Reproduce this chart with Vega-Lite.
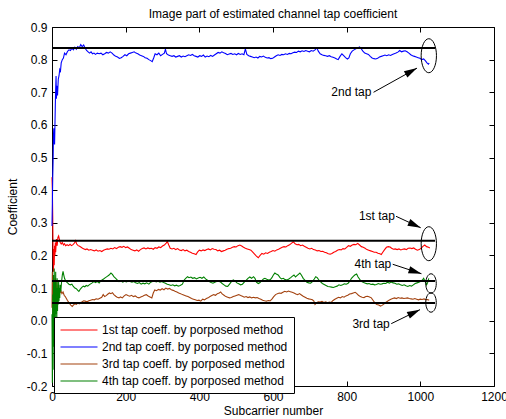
{
  "$schema": "https://vega.github.io/schema/vega-lite/v6.json",
  "width": 442,
  "height": 359,
  "autosize": {"type": "none"},
  "padding": {"left": 52, "top": 27, "right": 12, "bottom": 33},
  "background": "white",
  "title": {"text": "Image part of estimated channel tap coefficient", "fontSize": 12, "fontWeight": "normal", "offset": 0, "anchor": "middle", "color": "black"},
  "config": {
    "font": "Liberation Sans",
    "view": {"stroke": "black", "strokeWidth": 1},
    "axis": {"grid": false, "domain": false, "labelFontSize": 12, "titleFontSize": 12, "titleFontWeight": "normal", "labelColor": "black", "titleColor": "black", "tickColor": "black", "labelFlush": false, "labelOverlap": false}
  },
  "datasets": {
    "series": [
      {"s":"1st","x":0,"y":0.44},{"s":"1st","x":1,"y":0.40},{"s":"1st","x":2,"y":0.32},{"s":"1st","x":3,"y":0.20},{"s":"1st","x":4,"y":0.15},{"s":"1st","x":5,"y":0.22},{"s":"1st","x":6,"y":0.17},{"s":"1st","x":7,"y":0.23},{"s":"1st","x":8,"y":0.20},{"s":"1st","x":9,"y":0.24},{"s":"1st","x":10,"y":0.21},{"s":"1st","x":12,"y":0.25},{"s":"1st","x":14,"y":0.23},{"s":"1st","x":16,"y":0.255},{"s":"1st","x":18,"y":0.26},{"s":"1st","x":20,"y":0.25},{"s":"1st","x":22,"y":0.24},{"s":"1st","x":25,"y":0.235},{"s":"1st","x":28,"y":0.24},{"s":"1st","x":31,"y":0.232},{"s":"1st","x":34,"y":0.236},{"s":"1st","x":37,"y":0.23},{"s":"1st","x":41,"y":0.233},{"s":"1st","x":45,"y":0.23},{"s":"1st","x":49,"y":0.234},{"s":"1st","x":53,"y":0.23},{"s":"1st","x":57,"y":0.233},{"s":"1st","x":61,"y":0.238},{"s":"1st","x":64,"y":0.245},{"s":"1st","x":67,"y":0.235},{"s":"1st","x":71,"y":0.23},{"s":"1st","x":75,"y":0.228},{"s":"1st","x":79,"y":0.225},{"s":"1st","x":83,"y":0.222},{"s":"1st","x":87,"y":0.22},{"s":"1st","x":91,"y":0.218},{"s":"1st","x":95,"y":0.22},{"s":"1st","x":100,"y":0.216},{"s":"1st","x":105,"y":0.218},{"s":"1st","x":110,"y":0.216},{"s":"1st","x":115,"y":0.214},{"s":"1st","x":120,"y":0.217},{"s":"1st","x":125,"y":0.213},{"s":"1st","x":130,"y":0.215},{"s":"1st","x":135,"y":0.212},{"s":"1st","x":140,"y":0.216},{"s":"1st","x":145,"y":0.218},{"s":"1st","x":150,"y":0.22},{"s":"1st","x":155,"y":0.219},{"s":"1st","x":160,"y":0.222},{"s":"1st","x":165,"y":0.22},{"s":"1st","x":170,"y":0.224},{"s":"1st","x":175,"y":0.221},{"s":"1st","x":180,"y":0.225},{"s":"1st","x":185,"y":0.227},{"s":"1st","x":190,"y":0.225},{"s":"1st","x":195,"y":0.228},{"s":"1st","x":200,"y":0.224},{"s":"1st","x":205,"y":0.226},{"s":"1st","x":210,"y":0.222},{"s":"1st","x":215,"y":0.218},{"s":"1st","x":220,"y":0.216},{"s":"1st","x":225,"y":0.214},{"s":"1st","x":230,"y":0.217},{"s":"1st","x":235,"y":0.213},{"s":"1st","x":240,"y":0.218},{"s":"1st","x":245,"y":0.221},{"s":"1st","x":250,"y":0.223},{"s":"1st","x":255,"y":0.22},{"s":"1st","x":260,"y":0.223},{"s":"1st","x":265,"y":0.221},{"s":"1st","x":270,"y":0.222},{"s":"1st","x":275,"y":0.219},{"s":"1st","x":280,"y":0.224},{"s":"1st","x":285,"y":0.222},{"s":"1st","x":290,"y":0.226},{"s":"1st","x":295,"y":0.224},{"s":"1st","x":300,"y":0.229},{"s":"1st","x":305,"y":0.232},{"s":"1st","x":310,"y":0.238},{"s":"1st","x":313,"y":0.243},{"s":"1st","x":317,"y":0.232},{"s":"1st","x":321,"y":0.222},{"s":"1st","x":326,"y":0.22},{"s":"1st","x":331,"y":0.222},{"s":"1st","x":336,"y":0.218},{"s":"1st","x":341,"y":0.221},{"s":"1st","x":346,"y":0.217},{"s":"1st","x":351,"y":0.215},{"s":"1st","x":356,"y":0.218},{"s":"1st","x":361,"y":0.214},{"s":"1st","x":366,"y":0.216},{"s":"1st","x":371,"y":0.212},{"s":"1st","x":376,"y":0.21},{"s":"1st","x":381,"y":0.207},{"s":"1st","x":386,"y":0.205},{"s":"1st","x":391,"y":0.203},{"s":"1st","x":395,"y":0.21},{"s":"1st","x":400,"y":0.216},{"s":"1st","x":405,"y":0.214},{"s":"1st","x":410,"y":0.217},{"s":"1st","x":415,"y":0.215},{"s":"1st","x":420,"y":0.218},{"s":"1st","x":425,"y":0.22},{"s":"1st","x":430,"y":0.217},{"s":"1st","x":435,"y":0.221},{"s":"1st","x":440,"y":0.219},{"s":"1st","x":445,"y":0.218},{"s":"1st","x":450,"y":0.214},{"s":"1st","x":455,"y":0.216},{"s":"1st","x":460,"y":0.212},{"s":"1st","x":465,"y":0.214},{"s":"1st","x":470,"y":0.216},{"s":"1st","x":475,"y":0.219},{"s":"1st","x":480,"y":0.221},{"s":"1st","x":485,"y":0.222},{"s":"1st","x":490,"y":0.225},{"s":"1st","x":495,"y":0.227},{"s":"1st","x":500,"y":0.226},{"s":"1st","x":505,"y":0.23},{"s":"1st","x":510,"y":0.232},{"s":"1st","x":515,"y":0.229},{"s":"1st","x":520,"y":0.225},{"s":"1st","x":525,"y":0.222},{"s":"1st","x":530,"y":0.22},{"s":"1st","x":535,"y":0.218},{"s":"1st","x":540,"y":0.216},{"s":"1st","x":545,"y":0.21},{"s":"1st","x":550,"y":0.204},{"s":"1st","x":555,"y":0.198},{"s":"1st","x":560,"y":0.193},{"s":"1st","x":565,"y":0.2},{"s":"1st","x":570,"y":0.206},{"s":"1st","x":575,"y":0.204},{"s":"1st","x":580,"y":0.208},{"s":"1st","x":585,"y":0.206},{"s":"1st","x":590,"y":0.21},{"s":"1st","x":595,"y":0.212},{"s":"1st","x":600,"y":0.215},{"s":"1st","x":605,"y":0.213},{"s":"1st","x":610,"y":0.217},{"s":"1st","x":615,"y":0.219},{"s":"1st","x":620,"y":0.222},{"s":"1st","x":625,"y":0.225},{"s":"1st","x":630,"y":0.227},{"s":"1st","x":635,"y":0.226},{"s":"1st","x":640,"y":0.23},{"s":"1st","x":645,"y":0.233},{"s":"1st","x":650,"y":0.237},{"s":"1st","x":655,"y":0.242},{"s":"1st","x":660,"y":0.236},{"s":"1st","x":665,"y":0.233},{"s":"1st","x":670,"y":0.234},{"s":"1st","x":675,"y":0.23},{"s":"1st","x":680,"y":0.232},{"s":"1st","x":685,"y":0.228},{"s":"1st","x":690,"y":0.225},{"s":"1st","x":695,"y":0.222},{"s":"1st","x":700,"y":0.22},{"s":"1st","x":705,"y":0.222},{"s":"1st","x":710,"y":0.218},{"s":"1st","x":715,"y":0.217},{"s":"1st","x":720,"y":0.214},{"s":"1st","x":725,"y":0.215},{"s":"1st","x":730,"y":0.212},{"s":"1st","x":735,"y":0.213},{"s":"1st","x":740,"y":0.21},{"s":"1st","x":745,"y":0.208},{"s":"1st","x":750,"y":0.205},{"s":"1st","x":755,"y":0.204},{"s":"1st","x":760,"y":0.206},{"s":"1st","x":765,"y":0.21},{"s":"1st","x":770,"y":0.212},{"s":"1st","x":775,"y":0.216},{"s":"1st","x":780,"y":0.218},{"s":"1st","x":785,"y":0.217},{"s":"1st","x":790,"y":0.221},{"s":"1st","x":795,"y":0.22},{"s":"1st","x":800,"y":0.225},{"s":"1st","x":805,"y":0.23},{"s":"1st","x":810,"y":0.228},{"s":"1st","x":815,"y":0.232},{"s":"1st","x":820,"y":0.234},{"s":"1st","x":825,"y":0.233},{"s":"1st","x":830,"y":0.237},{"s":"1st","x":835,"y":0.232},{"s":"1st","x":840,"y":0.227},{"s":"1st","x":845,"y":0.225},{"s":"1st","x":850,"y":0.222},{"s":"1st","x":855,"y":0.218},{"s":"1st","x":860,"y":0.216},{"s":"1st","x":865,"y":0.214},{"s":"1st","x":870,"y":0.212},{"s":"1st","x":875,"y":0.21},{"s":"1st","x":880,"y":0.21},{"s":"1st","x":885,"y":0.207},{"s":"1st","x":890,"y":0.205},{"s":"1st","x":894,"y":0.203},{"s":"1st","x":898,"y":0.21},{"s":"1st","x":903,"y":0.218},{"s":"1st","x":908,"y":0.225},{"s":"1st","x":913,"y":0.227},{"s":"1st","x":918,"y":0.226},{"s":"1st","x":922,"y":0.222},{"s":"1st","x":927,"y":0.219},{"s":"1st","x":932,"y":0.22},{"s":"1st","x":937,"y":0.218},{"s":"1st","x":942,"y":0.22},{"s":"1st","x":947,"y":0.217},{"s":"1st","x":952,"y":0.219},{"s":"1st","x":957,"y":0.22},{"s":"1st","x":962,"y":0.218},{"s":"1st","x":967,"y":0.222},{"s":"1st","x":972,"y":0.223},{"s":"1st","x":977,"y":0.221},{"s":"1st","x":982,"y":0.223},{"s":"1st","x":987,"y":0.219},{"s":"1st","x":992,"y":0.216},{"s":"1st","x":997,"y":0.218},{"s":"1st","x":1002,"y":0.222},{"s":"1st","x":1007,"y":0.228},{"s":"1st","x":1012,"y":0.232},{"s":"1st","x":1017,"y":0.227},{"s":"1st","x":1022,"y":0.225},{"s":"1st","x":1026,"y":0.223},
      {"s":"2nd","x":0,"y":0.29},{"s":"2nd","x":1,"y":0.36},{"s":"2nd","x":2,"y":0.44},{"s":"2nd","x":3,"y":0.49},{"s":"2nd","x":4,"y":0.57},{"s":"2nd","x":5,"y":0.59},{"s":"2nd","x":6,"y":0.55},{"s":"2nd","x":7,"y":0.54},{"s":"2nd","x":8,"y":0.60},{"s":"2nd","x":9,"y":0.66},{"s":"2nd","x":10,"y":0.71},{"s":"2nd","x":11,"y":0.75},{"s":"2nd","x":12,"y":0.68},{"s":"2nd","x":13,"y":0.72},{"s":"2nd","x":14,"y":0.70},{"s":"2nd","x":15,"y":0.69},{"s":"2nd","x":17,"y":0.74},{"s":"2nd","x":19,"y":0.75},{"s":"2nd","x":21,"y":0.77},{"s":"2nd","x":23,"y":0.765},{"s":"2nd","x":25,"y":0.79},{"s":"2nd","x":28,"y":0.80},{"s":"2nd","x":31,"y":0.805},{"s":"2nd","x":34,"y":0.82},{"s":"2nd","x":38,"y":0.815},{"s":"2nd","x":42,"y":0.825},{"s":"2nd","x":46,"y":0.83},{"s":"2nd","x":50,"y":0.828},{"s":"2nd","x":54,"y":0.835},{"s":"2nd","x":58,"y":0.83},{"s":"2nd","x":62,"y":0.838},{"s":"2nd","x":66,"y":0.832},{"s":"2nd","x":70,"y":0.84},{"s":"2nd","x":74,"y":0.836},{"s":"2nd","x":78,"y":0.846},{"s":"2nd","x":82,"y":0.84},{"s":"2nd","x":86,"y":0.845},{"s":"2nd","x":90,"y":0.835},{"s":"2nd","x":94,"y":0.828},{"s":"2nd","x":98,"y":0.824},{"s":"2nd","x":102,"y":0.82},{"s":"2nd","x":106,"y":0.824},{"s":"2nd","x":110,"y":0.818},{"s":"2nd","x":114,"y":0.82},{"s":"2nd","x":118,"y":0.816},{"s":"2nd","x":123,"y":0.82},{"s":"2nd","x":128,"y":0.818},{"s":"2nd","x":133,"y":0.82},{"s":"2nd","x":138,"y":0.815},{"s":"2nd","x":143,"y":0.818},{"s":"2nd","x":148,"y":0.822},{"s":"2nd","x":153,"y":0.82},{"s":"2nd","x":158,"y":0.824},{"s":"2nd","x":163,"y":0.82},{"s":"2nd","x":168,"y":0.814},{"s":"2nd","x":173,"y":0.81},{"s":"2nd","x":178,"y":0.808},{"s":"2nd","x":183,"y":0.804},{"s":"2nd","x":188,"y":0.806},{"s":"2nd","x":193,"y":0.81},{"s":"2nd","x":198,"y":0.815},{"s":"2nd","x":203,"y":0.812},{"s":"2nd","x":208,"y":0.818},{"s":"2nd","x":213,"y":0.82},{"s":"2nd","x":218,"y":0.822},{"s":"2nd","x":223,"y":0.824},{"s":"2nd","x":228,"y":0.82},{"s":"2nd","x":233,"y":0.818},{"s":"2nd","x":238,"y":0.814},{"s":"2nd","x":243,"y":0.812},{"s":"2nd","x":248,"y":0.81},{"s":"2nd","x":253,"y":0.806},{"s":"2nd","x":258,"y":0.804},{"s":"2nd","x":263,"y":0.80},{"s":"2nd","x":268,"y":0.797},{"s":"2nd","x":272,"y":0.794},{"s":"2nd","x":276,"y":0.805},{"s":"2nd","x":280,"y":0.818},{"s":"2nd","x":285,"y":0.815},{"s":"2nd","x":290,"y":0.82},{"s":"2nd","x":295,"y":0.812},{"s":"2nd","x":300,"y":0.816},{"s":"2nd","x":305,"y":0.82},{"s":"2nd","x":308,"y":0.832},{"s":"2nd","x":311,"y":0.818},{"s":"2nd","x":316,"y":0.814},{"s":"2nd","x":321,"y":0.812},{"s":"2nd","x":326,"y":0.81},{"s":"2nd","x":331,"y":0.812},{"s":"2nd","x":336,"y":0.808},{"s":"2nd","x":341,"y":0.81},{"s":"2nd","x":346,"y":0.812},{"s":"2nd","x":351,"y":0.808},{"s":"2nd","x":356,"y":0.811},{"s":"2nd","x":361,"y":0.809},{"s":"2nd","x":366,"y":0.812},{"s":"2nd","x":371,"y":0.815},{"s":"2nd","x":376,"y":0.813},{"s":"2nd","x":381,"y":0.816},{"s":"2nd","x":386,"y":0.812},{"s":"2nd","x":391,"y":0.81},{"s":"2nd","x":396,"y":0.808},{"s":"2nd","x":401,"y":0.812},{"s":"2nd","x":406,"y":0.81},{"s":"2nd","x":411,"y":0.814},{"s":"2nd","x":416,"y":0.808},{"s":"2nd","x":421,"y":0.811},{"s":"2nd","x":426,"y":0.809},{"s":"2nd","x":431,"y":0.813},{"s":"2nd","x":436,"y":0.81},{"s":"2nd","x":441,"y":0.814},{"s":"2nd","x":446,"y":0.818},{"s":"2nd","x":451,"y":0.822},{"s":"2nd","x":456,"y":0.82},{"s":"2nd","x":461,"y":0.824},{"s":"2nd","x":466,"y":0.821},{"s":"2nd","x":471,"y":0.819},{"s":"2nd","x":476,"y":0.815},{"s":"2nd","x":481,"y":0.817},{"s":"2nd","x":486,"y":0.819},{"s":"2nd","x":491,"y":0.816},{"s":"2nd","x":496,"y":0.818},{"s":"2nd","x":501,"y":0.815},{"s":"2nd","x":506,"y":0.819},{"s":"2nd","x":511,"y":0.816},{"s":"2nd","x":516,"y":0.818},{"s":"2nd","x":521,"y":0.815},{"s":"2nd","x":525,"y":0.833},{"s":"2nd","x":529,"y":0.816},{"s":"2nd","x":534,"y":0.812},{"s":"2nd","x":539,"y":0.81},{"s":"2nd","x":544,"y":0.808},{"s":"2nd","x":549,"y":0.806},{"s":"2nd","x":554,"y":0.808},{"s":"2nd","x":559,"y":0.805},{"s":"2nd","x":564,"y":0.81},{"s":"2nd","x":569,"y":0.808},{"s":"2nd","x":574,"y":0.811},{"s":"2nd","x":579,"y":0.807},{"s":"2nd","x":584,"y":0.805},{"s":"2nd","x":589,"y":0.806},{"s":"2nd","x":594,"y":0.803},{"s":"2nd","x":599,"y":0.804},{"s":"2nd","x":604,"y":0.808},{"s":"2nd","x":609,"y":0.812},{"s":"2nd","x":614,"y":0.815},{"s":"2nd","x":619,"y":0.813},{"s":"2nd","x":624,"y":0.816},{"s":"2nd","x":629,"y":0.815},{"s":"2nd","x":634,"y":0.818},{"s":"2nd","x":639,"y":0.816},{"s":"2nd","x":644,"y":0.819},{"s":"2nd","x":649,"y":0.818},{"s":"2nd","x":654,"y":0.821},{"s":"2nd","x":659,"y":0.823},{"s":"2nd","x":664,"y":0.822},{"s":"2nd","x":669,"y":0.826},{"s":"2nd","x":674,"y":0.824},{"s":"2nd","x":679,"y":0.827},{"s":"2nd","x":684,"y":0.825},{"s":"2nd","x":689,"y":0.828},{"s":"2nd","x":694,"y":0.826},{"s":"2nd","x":699,"y":0.824},{"s":"2nd","x":704,"y":0.828},{"s":"2nd","x":709,"y":0.826},{"s":"2nd","x":714,"y":0.83},{"s":"2nd","x":719,"y":0.836},{"s":"2nd","x":723,"y":0.826},{"s":"2nd","x":728,"y":0.818},{"s":"2nd","x":733,"y":0.815},{"s":"2nd","x":738,"y":0.813},{"s":"2nd","x":743,"y":0.812},{"s":"2nd","x":748,"y":0.81},{"s":"2nd","x":753,"y":0.812},{"s":"2nd","x":758,"y":0.809},{"s":"2nd","x":763,"y":0.807},{"s":"2nd","x":768,"y":0.805},{"s":"2nd","x":773,"y":0.802},{"s":"2nd","x":777,"y":0.80},{"s":"2nd","x":782,"y":0.81},{"s":"2nd","x":787,"y":0.818},{"s":"2nd","x":792,"y":0.812},{"s":"2nd","x":797,"y":0.806},{"s":"2nd","x":802,"y":0.802},{"s":"2nd","x":806,"y":0.805},{"s":"2nd","x":810,"y":0.818},{"s":"2nd","x":815,"y":0.826},{"s":"2nd","x":820,"y":0.83},{"s":"2nd","x":825,"y":0.833},{"s":"2nd","x":830,"y":0.836},{"s":"2nd","x":835,"y":0.839},{"s":"2nd","x":839,"y":0.834},{"s":"2nd","x":844,"y":0.826},{"s":"2nd","x":849,"y":0.82},{"s":"2nd","x":854,"y":0.818},{"s":"2nd","x":859,"y":0.816},{"s":"2nd","x":864,"y":0.81},{"s":"2nd","x":869,"y":0.805},{"s":"2nd","x":874,"y":0.803},{"s":"2nd","x":879,"y":0.802},{"s":"2nd","x":884,"y":0.804},{"s":"2nd","x":889,"y":0.808},{"s":"2nd","x":894,"y":0.81},{"s":"2nd","x":899,"y":0.812},{"s":"2nd","x":904,"y":0.814},{"s":"2nd","x":909,"y":0.812},{"s":"2nd","x":914,"y":0.815},{"s":"2nd","x":919,"y":0.813},{"s":"2nd","x":924,"y":0.816},{"s":"2nd","x":929,"y":0.818},{"s":"2nd","x":934,"y":0.82},{"s":"2nd","x":939,"y":0.823},{"s":"2nd","x":944,"y":0.828},{"s":"2nd","x":949,"y":0.824},{"s":"2nd","x":954,"y":0.826},{"s":"2nd","x":959,"y":0.827},{"s":"2nd","x":964,"y":0.824},{"s":"2nd","x":969,"y":0.82},{"s":"2nd","x":974,"y":0.815},{"s":"2nd","x":979,"y":0.812},{"s":"2nd","x":984,"y":0.81},{"s":"2nd","x":989,"y":0.808},{"s":"2nd","x":994,"y":0.806},{"s":"2nd","x":999,"y":0.804},{"s":"2nd","x":1004,"y":0.80},{"s":"2nd","x":1009,"y":0.802},{"s":"2nd","x":1014,"y":0.796},{"s":"2nd","x":1018,"y":0.79},{"s":"2nd","x":1022,"y":0.786},{"s":"2nd","x":1024,"y":0.79},
      {"s":"3rd","x":0,"y":0.04},{"s":"3rd","x":1,"y":0.15},{"s":"3rd","x":2,"y":-0.05},{"s":"3rd","x":3,"y":0.12},{"s":"3rd","x":4,"y":0.0},{"s":"3rd","x":5,"y":0.14},{"s":"3rd","x":6,"y":0.03},{"s":"3rd","x":7,"y":0.11},{"s":"3rd","x":8,"y":0.02},{"s":"3rd","x":9,"y":0.13},{"s":"3rd","x":10,"y":0.04},{"s":"3rd","x":11,"y":0.10},{"s":"3rd","x":12,"y":0.05},{"s":"3rd","x":13,"y":0.12},{"s":"3rd","x":14,"y":0.06},{"s":"3rd","x":15,"y":0.10},{"s":"3rd","x":16,"y":0.07},{"s":"3rd","x":17,"y":0.11},{"s":"3rd","x":18,"y":0.08},{"s":"3rd","x":20,"y":0.10},{"s":"3rd","x":22,"y":0.085},{"s":"3rd","x":24,"y":0.092},{"s":"3rd","x":27,"y":0.083},{"s":"3rd","x":30,"y":0.088},{"s":"3rd","x":33,"y":0.078},{"s":"3rd","x":36,"y":0.074},{"s":"3rd","x":39,"y":0.068},{"s":"3rd","x":42,"y":0.062},{"s":"3rd","x":45,"y":0.057},{"s":"3rd","x":48,"y":0.052},{"s":"3rd","x":51,"y":0.048},{"s":"3rd","x":55,"y":0.044},{"s":"3rd","x":58,"y":0.048},{"s":"3rd","x":62,"y":0.052},{"s":"3rd","x":66,"y":0.05},{"s":"3rd","x":70,"y":0.054},{"s":"3rd","x":74,"y":0.052},{"s":"3rd","x":78,"y":0.056},{"s":"3rd","x":82,"y":0.058},{"s":"3rd","x":86,"y":0.061},{"s":"3rd","x":90,"y":0.06},{"s":"3rd","x":95,"y":0.058},{"s":"3rd","x":100,"y":0.061},{"s":"3rd","x":105,"y":0.063},{"s":"3rd","x":110,"y":0.065},{"s":"3rd","x":115,"y":0.064},{"s":"3rd","x":120,"y":0.067},{"s":"3rd","x":125,"y":0.066},{"s":"3rd","x":130,"y":0.069},{"s":"3rd","x":135,"y":0.072},{"s":"3rd","x":139,"y":0.08},{"s":"3rd","x":143,"y":0.074},{"s":"3rd","x":147,"y":0.077},{"s":"3rd","x":152,"y":0.082},{"s":"3rd","x":156,"y":0.085},{"s":"3rd","x":160,"y":0.083},{"s":"3rd","x":164,"y":0.086},{"s":"3rd","x":168,"y":0.08},{"s":"3rd","x":173,"y":0.075},{"s":"3rd","x":177,"y":0.072},{"s":"3rd","x":182,"y":0.07},{"s":"3rd","x":186,"y":0.073},{"s":"3rd","x":191,"y":0.07},{"s":"3rd","x":196,"y":0.076},{"s":"3rd","x":201,"y":0.08},{"s":"3rd","x":206,"y":0.077},{"s":"3rd","x":211,"y":0.075},{"s":"3rd","x":216,"y":0.078},{"s":"3rd","x":221,"y":0.074},{"s":"3rd","x":226,"y":0.076},{"s":"3rd","x":231,"y":0.072},{"s":"3rd","x":236,"y":0.07},{"s":"3rd","x":241,"y":0.073},{"s":"3rd","x":246,"y":0.075},{"s":"3rd","x":251,"y":0.078},{"s":"3rd","x":256,"y":0.08},{"s":"3rd","x":261,"y":0.076},{"s":"3rd","x":266,"y":0.073},{"s":"3rd","x":271,"y":0.07},{"s":"3rd","x":275,"y":0.085},{"s":"3rd","x":279,"y":0.094},{"s":"3rd","x":284,"y":0.092},{"s":"3rd","x":289,"y":0.096},{"s":"3rd","x":294,"y":0.094},{"s":"3rd","x":299,"y":0.098},{"s":"3rd","x":304,"y":0.095},{"s":"3rd","x":309,"y":0.10},{"s":"3rd","x":314,"y":0.097},{"s":"3rd","x":319,"y":0.099},{"s":"3rd","x":324,"y":0.095},{"s":"3rd","x":329,"y":0.093},{"s":"3rd","x":334,"y":0.09},{"s":"3rd","x":339,"y":0.088},{"s":"3rd","x":344,"y":0.085},{"s":"3rd","x":349,"y":0.083},{"s":"3rd","x":354,"y":0.08},{"s":"3rd","x":359,"y":0.078},{"s":"3rd","x":364,"y":0.076},{"s":"3rd","x":369,"y":0.074},{"s":"3rd","x":374,"y":0.071},{"s":"3rd","x":379,"y":0.068},{"s":"3rd","x":384,"y":0.066},{"s":"3rd","x":389,"y":0.064},{"s":"3rd","x":394,"y":0.062},{"s":"3rd","x":399,"y":0.063},{"s":"3rd","x":404,"y":0.06},{"s":"3rd","x":409,"y":0.066},{"s":"3rd","x":414,"y":0.064},{"s":"3rd","x":419,"y":0.068},{"s":"3rd","x":424,"y":0.07},{"s":"3rd","x":429,"y":0.074},{"s":"3rd","x":434,"y":0.077},{"s":"3rd","x":439,"y":0.08},{"s":"3rd","x":444,"y":0.078},{"s":"3rd","x":449,"y":0.083},{"s":"3rd","x":454,"y":0.085},{"s":"3rd","x":458,"y":0.088},{"s":"3rd","x":462,"y":0.082},{"s":"3rd","x":467,"y":0.078},{"s":"3rd","x":472,"y":0.074},{"s":"3rd","x":477,"y":0.072},{"s":"3rd","x":482,"y":0.07},{"s":"3rd","x":487,"y":0.071},{"s":"3rd","x":492,"y":0.074},{"s":"3rd","x":497,"y":0.076},{"s":"3rd","x":502,"y":0.078},{"s":"3rd","x":507,"y":0.08},{"s":"3rd","x":512,"y":0.077},{"s":"3rd","x":517,"y":0.075},{"s":"3rd","x":522,"y":0.072},{"s":"3rd","x":527,"y":0.074},{"s":"3rd","x":532,"y":0.071},{"s":"3rd","x":537,"y":0.073},{"s":"3rd","x":542,"y":0.07},{"s":"3rd","x":547,"y":0.072},{"s":"3rd","x":552,"y":0.07},{"s":"3rd","x":557,"y":0.071},{"s":"3rd","x":562,"y":0.068},{"s":"3rd","x":567,"y":0.066},{"s":"3rd","x":572,"y":0.063},{"s":"3rd","x":577,"y":0.061},{"s":"3rd","x":582,"y":0.06},{"s":"3rd","x":587,"y":0.062},{"s":"3rd","x":592,"y":0.061},{"s":"3rd","x":597,"y":0.066},{"s":"3rd","x":602,"y":0.074},{"s":"3rd","x":607,"y":0.08},{"s":"3rd","x":612,"y":0.083},{"s":"3rd","x":617,"y":0.085},{"s":"3rd","x":622,"y":0.084},{"s":"3rd","x":627,"y":0.087},{"s":"3rd","x":632,"y":0.09},{"s":"3rd","x":637,"y":0.088},{"s":"3rd","x":642,"y":0.091},{"s":"3rd","x":647,"y":0.089},{"s":"3rd","x":652,"y":0.087},{"s":"3rd","x":657,"y":0.085},{"s":"3rd","x":662,"y":0.082},{"s":"3rd","x":667,"y":0.08},{"s":"3rd","x":672,"y":0.083},{"s":"3rd","x":677,"y":0.079},{"s":"3rd","x":682,"y":0.075},{"s":"3rd","x":687,"y":0.072},{"s":"3rd","x":692,"y":0.069},{"s":"3rd","x":697,"y":0.067},{"s":"3rd","x":702,"y":0.066},{"s":"3rd","x":707,"y":0.064},{"s":"3rd","x":711,"y":0.06},{"s":"3rd","x":714,"y":0.05},{"s":"3rd","x":718,"y":0.055},{"s":"3rd","x":723,"y":0.058},{"s":"3rd","x":728,"y":0.057},{"s":"3rd","x":733,"y":0.059},{"s":"3rd","x":738,"y":0.056},{"s":"3rd","x":743,"y":0.058},{"s":"3rd","x":748,"y":0.055},{"s":"3rd","x":753,"y":0.057},{"s":"3rd","x":758,"y":0.056},{"s":"3rd","x":763,"y":0.062},{"s":"3rd","x":768,"y":0.066},{"s":"3rd","x":773,"y":0.069},{"s":"3rd","x":778,"y":0.072},{"s":"3rd","x":783,"y":0.07},{"s":"3rd","x":788,"y":0.074},{"s":"3rd","x":793,"y":0.072},{"s":"3rd","x":798,"y":0.076},{"s":"3rd","x":803,"y":0.078},{"s":"3rd","x":808,"y":0.082},{"s":"3rd","x":813,"y":0.083},{"s":"3rd","x":818,"y":0.085},{"s":"3rd","x":823,"y":0.087},{"s":"3rd","x":827,"y":0.084},{"s":"3rd","x":832,"y":0.078},{"s":"3rd","x":837,"y":0.074},{"s":"3rd","x":842,"y":0.072},{"s":"3rd","x":847,"y":0.071},{"s":"3rd","x":852,"y":0.074},{"s":"3rd","x":857,"y":0.075},{"s":"3rd","x":862,"y":0.073},{"s":"3rd","x":867,"y":0.07},{"s":"3rd","x":872,"y":0.062},{"s":"3rd","x":877,"y":0.054},{"s":"3rd","x":882,"y":0.05},{"s":"3rd","x":887,"y":0.048},{"s":"3rd","x":892,"y":0.045},{"s":"3rd","x":896,"y":0.047},{"s":"3rd","x":900,"y":0.05},{"s":"3rd","x":905,"y":0.055},{"s":"3rd","x":910,"y":0.059},{"s":"3rd","x":915,"y":0.063},{"s":"3rd","x":920,"y":0.066},{"s":"3rd","x":925,"y":0.068},{"s":"3rd","x":930,"y":0.07},{"s":"3rd","x":935,"y":0.068},{"s":"3rd","x":940,"y":0.071},{"s":"3rd","x":945,"y":0.069},{"s":"3rd","x":950,"y":0.07},{"s":"3rd","x":955,"y":0.068},{"s":"3rd","x":960,"y":0.069},{"s":"3rd","x":965,"y":0.07},{"s":"3rd","x":970,"y":0.068},{"s":"3rd","x":975,"y":0.067},{"s":"3rd","x":980,"y":0.066},{"s":"3rd","x":985,"y":0.068},{"s":"3rd","x":990,"y":0.066},{"s":"3rd","x":995,"y":0.064},{"s":"3rd","x":1000,"y":0.066},{"s":"3rd","x":1005,"y":0.065},{"s":"3rd","x":1010,"y":0.067},{"s":"3rd","x":1015,"y":0.064},{"s":"3rd","x":1020,"y":0.065},{"s":"3rd","x":1024,"y":0.063},
      {"s":"4th","x":0,"y":0.02},{"s":"4th","x":1,"y":-0.19},{"s":"4th","x":2,"y":0.08},{"s":"4th","x":3,"y":-0.15},{"s":"4th","x":4,"y":0.14},{"s":"4th","x":5,"y":-0.08},{"s":"4th","x":6,"y":0.16},{"s":"4th","x":7,"y":-0.02},{"s":"4th","x":8,"y":0.12},{"s":"4th","x":9,"y":0.0},{"s":"4th","x":10,"y":0.15},{"s":"4th","x":11,"y":0.02},{"s":"4th","x":12,"y":0.10},{"s":"4th","x":13,"y":0.0},{"s":"4th","x":14,"y":0.13},{"s":"4th","x":15,"y":0.03},{"s":"4th","x":16,"y":0.10},{"s":"4th","x":17,"y":0.05},{"s":"4th","x":18,"y":0.12},{"s":"4th","x":19,"y":0.06},{"s":"4th","x":20,"y":0.10},{"s":"4th","x":21,"y":0.07},{"s":"4th","x":22,"y":0.11},{"s":"4th","x":24,"y":0.09},{"s":"4th","x":26,"y":0.12},{"s":"4th","x":28,"y":0.14},{"s":"4th","x":30,"y":0.151},{"s":"4th","x":32,"y":0.14},{"s":"4th","x":34,"y":0.13},{"s":"4th","x":37,"y":0.122},{"s":"4th","x":40,"y":0.118},{"s":"4th","x":43,"y":0.115},{"s":"4th","x":46,"y":0.112},{"s":"4th","x":50,"y":0.11},{"s":"4th","x":54,"y":0.112},{"s":"4th","x":58,"y":0.105},{"s":"4th","x":62,"y":0.10},{"s":"4th","x":66,"y":0.098},{"s":"4th","x":70,"y":0.093},{"s":"4th","x":73,"y":0.09},{"s":"4th","x":77,"y":0.097},{"s":"4th","x":81,"y":0.102},{"s":"4th","x":85,"y":0.106},{"s":"4th","x":89,"y":0.104},{"s":"4th","x":93,"y":0.108},{"s":"4th","x":97,"y":0.106},{"s":"4th","x":101,"y":0.11},{"s":"4th","x":105,"y":0.113},{"s":"4th","x":109,"y":0.116},{"s":"4th","x":114,"y":0.12},{"s":"4th","x":118,"y":0.117},{"s":"4th","x":123,"y":0.12},{"s":"4th","x":128,"y":0.116},{"s":"4th","x":132,"y":0.122},{"s":"4th","x":136,"y":0.125},{"s":"4th","x":140,"y":0.128},{"s":"4th","x":145,"y":0.132},{"s":"4th","x":150,"y":0.136},{"s":"4th","x":155,"y":0.14},{"s":"4th","x":160,"y":0.146},{"s":"4th","x":164,"y":0.142},{"s":"4th","x":168,"y":0.135},{"s":"4th","x":173,"y":0.13},{"s":"4th","x":178,"y":0.124},{"s":"4th","x":182,"y":0.12},{"s":"4th","x":187,"y":0.122},{"s":"4th","x":192,"y":0.118},{"s":"4th","x":197,"y":0.121},{"s":"4th","x":202,"y":0.119},{"s":"4th","x":207,"y":0.122},{"s":"4th","x":212,"y":0.12},{"s":"4th","x":217,"y":0.118},{"s":"4th","x":222,"y":0.12},{"s":"4th","x":227,"y":0.116},{"s":"4th","x":232,"y":0.114},{"s":"4th","x":237,"y":0.117},{"s":"4th","x":242,"y":0.112},{"s":"4th","x":247,"y":0.115},{"s":"4th","x":252,"y":0.113},{"s":"4th","x":257,"y":0.116},{"s":"4th","x":263,"y":0.112},{"s":"4th","x":268,"y":0.118},{"s":"4th","x":273,"y":0.12},{"s":"4th","x":278,"y":0.122},{"s":"4th","x":283,"y":0.119},{"s":"4th","x":288,"y":0.121},{"s":"4th","x":293,"y":0.118},{"s":"4th","x":298,"y":0.12},{"s":"4th","x":303,"y":0.117},{"s":"4th","x":308,"y":0.115},{"s":"4th","x":313,"y":0.112},{"s":"4th","x":318,"y":0.11},{"s":"4th","x":323,"y":0.108},{"s":"4th","x":328,"y":0.11},{"s":"4th","x":333,"y":0.107},{"s":"4th","x":338,"y":0.109},{"s":"4th","x":343,"y":0.106},{"s":"4th","x":348,"y":0.108},{"s":"4th","x":354,"y":0.112},{"s":"4th","x":359,"y":0.125},{"s":"4th","x":363,"y":0.13},{"s":"4th","x":368,"y":0.135},{"s":"4th","x":372,"y":0.132},{"s":"4th","x":377,"y":0.134},{"s":"4th","x":382,"y":0.13},{"s":"4th","x":387,"y":0.132},{"s":"4th","x":392,"y":0.128},{"s":"4th","x":397,"y":0.131},{"s":"4th","x":402,"y":0.133},{"s":"4th","x":407,"y":0.13},{"s":"4th","x":412,"y":0.134},{"s":"4th","x":417,"y":0.128},{"s":"4th","x":422,"y":0.124},{"s":"4th","x":427,"y":0.12},{"s":"4th","x":432,"y":0.117},{"s":"4th","x":437,"y":0.115},{"s":"4th","x":442,"y":0.118},{"s":"4th","x":447,"y":0.12},{"s":"4th","x":452,"y":0.122},{"s":"4th","x":457,"y":0.119},{"s":"4th","x":462,"y":0.114},{"s":"4th","x":467,"y":0.11},{"s":"4th","x":472,"y":0.106},{"s":"4th","x":477,"y":0.105},{"s":"4th","x":482,"y":0.112},{"s":"4th","x":487,"y":0.12},{"s":"4th","x":492,"y":0.125},{"s":"4th","x":497,"y":0.122},{"s":"4th","x":502,"y":0.116},{"s":"4th","x":507,"y":0.113},{"s":"4th","x":512,"y":0.11},{"s":"4th","x":517,"y":0.112},{"s":"4th","x":522,"y":0.118},{"s":"4th","x":527,"y":0.124},{"s":"4th","x":532,"y":0.13},{"s":"4th","x":537,"y":0.134},{"s":"4th","x":542,"y":0.13},{"s":"4th","x":547,"y":0.135},{"s":"4th","x":551,"y":0.13},{"s":"4th","x":555,"y":0.118},{"s":"4th","x":560,"y":0.114},{"s":"4th","x":564,"y":0.116},{"s":"4th","x":569,"y":0.122},{"s":"4th","x":574,"y":0.128},{"s":"4th","x":578,"y":0.13},{"s":"4th","x":583,"y":0.127},{"s":"4th","x":588,"y":0.125},{"s":"4th","x":593,"y":0.126},{"s":"4th","x":597,"y":0.132},{"s":"4th","x":601,"y":0.14},{"s":"4th","x":605,"y":0.146},{"s":"4th","x":609,"y":0.143},{"s":"4th","x":614,"y":0.14},{"s":"4th","x":619,"y":0.132},{"s":"4th","x":623,"y":0.128},{"s":"4th","x":628,"y":0.13},{"s":"4th","x":633,"y":0.126},{"s":"4th","x":638,"y":0.125},{"s":"4th","x":643,"y":0.128},{"s":"4th","x":648,"y":0.132},{"s":"4th","x":652,"y":0.136},{"s":"4th","x":657,"y":0.14},{"s":"4th","x":661,"y":0.134},{"s":"4th","x":665,"y":0.138},{"s":"4th","x":669,"y":0.142},{"s":"4th","x":673,"y":0.146},{"s":"4th","x":677,"y":0.14},{"s":"4th","x":682,"y":0.13},{"s":"4th","x":687,"y":0.124},{"s":"4th","x":692,"y":0.118},{"s":"4th","x":697,"y":0.116},{"s":"4th","x":702,"y":0.115},{"s":"4th","x":707,"y":0.12},{"s":"4th","x":712,"y":0.128},{"s":"4th","x":716,"y":0.135},{"s":"4th","x":720,"y":0.132},{"s":"4th","x":725,"y":0.124},{"s":"4th","x":730,"y":0.118},{"s":"4th","x":734,"y":0.114},{"s":"4th","x":739,"y":0.111},{"s":"4th","x":744,"y":0.108},{"s":"4th","x":749,"y":0.105},{"s":"4th","x":754,"y":0.104},{"s":"4th","x":759,"y":0.103},{"s":"4th","x":764,"y":0.102},{"s":"4th","x":769,"y":0.104},{"s":"4th","x":774,"y":0.106},{"s":"4th","x":779,"y":0.11},{"s":"4th","x":784,"y":0.108},{"s":"4th","x":789,"y":0.11},{"s":"4th","x":794,"y":0.113},{"s":"4th","x":799,"y":0.112},{"s":"4th","x":804,"y":0.115},{"s":"4th","x":809,"y":0.122},{"s":"4th","x":813,"y":0.13},{"s":"4th","x":818,"y":0.136},{"s":"4th","x":822,"y":0.14},{"s":"4th","x":827,"y":0.143},{"s":"4th","x":831,"y":0.134},{"s":"4th","x":836,"y":0.126},{"s":"4th","x":841,"y":0.12},{"s":"4th","x":846,"y":0.117},{"s":"4th","x":851,"y":0.115},{"s":"4th","x":856,"y":0.113},{"s":"4th","x":861,"y":0.114},{"s":"4th","x":866,"y":0.111},{"s":"4th","x":871,"y":0.112},{"s":"4th","x":876,"y":0.11},{"s":"4th","x":881,"y":0.111},{"s":"4th","x":886,"y":0.114},{"s":"4th","x":891,"y":0.112},{"s":"4th","x":896,"y":0.113},{"s":"4th","x":901,"y":0.115},{"s":"4th","x":906,"y":0.114},{"s":"4th","x":911,"y":0.118},{"s":"4th","x":916,"y":0.115},{"s":"4th","x":921,"y":0.119},{"s":"4th","x":926,"y":0.116},{"s":"4th","x":931,"y":0.115},{"s":"4th","x":936,"y":0.112},{"s":"4th","x":941,"y":0.113},{"s":"4th","x":946,"y":0.11},{"s":"4th","x":951,"y":0.108},{"s":"4th","x":956,"y":0.11},{"s":"4th","x":961,"y":0.107},{"s":"4th","x":966,"y":0.105},{"s":"4th","x":971,"y":0.108},{"s":"4th","x":976,"y":0.106},{"s":"4th","x":981,"y":0.11},{"s":"4th","x":986,"y":0.114},{"s":"4th","x":991,"y":0.116},{"s":"4th","x":996,"y":0.118},{"s":"4th","x":1000,"y":0.12},{"s":"4th","x":1005,"y":0.124},{"s":"4th","x":1009,"y":0.13},{"s":"4th","x":1013,"y":0.12},{"s":"4th","x":1017,"y":0.11},{"s":"4th","x":1020,"y":0.118},{"s":"4th","x":1023,"y":0.13}
    ],
    "refs": [
      {"tap":"2nd tap","x0":0,"x1":1040,"y":0.836},
      {"tap":"1st tap","x0":0,"x1":1040,"y":0.245},
      {"tap":"4th tap","x0":0,"x1":1040,"y":0.122},
      {"tap":"3rd tap","x0":0,"x1":1040,"y":0.054}
    ],
    "ell": [
      {"tap":"2nd tap","x":1023,"y":0.812},
      {"tap":"1st tap","x":1023,"y":0.236},
      {"tap":"4th tap","x":1029,"y":0.114},
      {"tap":"3rd tap","x":1029,"y":0.056}
    ],
    "ann": [
      {"tap":"2nd tap","tx":867,"ty":0.700,"ax":873,"ay":0.700,"bx":991,"by":0.774},
      {"tap":"1st tap","tx":931,"ty":0.321,"ax":934,"ay":0.320,"bx":1001,"by":0.285},
      {"tap":"4th tap","tx":921,"ty":0.174,"ax":925,"ay":0.173,"bx":1003,"by":0.144},
      {"tap":"3rd tap","tx":917,"ty":-0.009,"ax":921,"ay":-0.009,"bx":999,"by":0.034}
    ]
  },
  "resolve": {"axis": {"x": "independent", "y": "independent"}},
  "layer": [
    {
      "data": {"name": "series"},
      "mark": {"type": "line", "strokeWidth": 1.1},
      "encoding": {
        "x": {"field": "x", "type": "quantitative", "scale": {"domain": [0, 1200], "nice": false, "zero": false},
              "axis": {"orient": "bottom", "values": [0, 200, 400, 600, 800, 1000, 1200], "format": "d", "tickSize": -5, "labelPadding": 10, "title": "Subcarrier number", "titlePadding": 3}},
        "y": {"field": "y", "type": "quantitative", "scale": {"domain": [-0.2, 0.9], "nice": false, "zero": false},
              "axis": {"orient": "left", "values": [-0.2, -0.1, 0, 0.1, 0.2, 0.3, 0.4, 0.5, 0.6, 0.7, 0.8, 0.9], "tickSize": -5, "labelPadding": 10, "labelExpr": "replace(datum.label, '\u2212', '-')", "title": "Coefficient", "titlePadding": 7}},
        "color": {"field": "s", "type": "nominal",
                  "scale": {"domain": ["1st", "2nd", "3rd", "4th"], "range": ["#ff0000", "#0000ff", "#a3420f", "#008000"]},
                  "legend": {"orient": "none", "legendX": 2, "legendY": 290, "title": null, "fillColor": "white", "strokeColor": "black", "padding": 6, "symbolType": "M-3,0L3,0", "symbolSize": 152, "symbolOffset": 12, "symbolStrokeWidth": 1.2, "symbolFillColor": "transparent", "labelOffset": 16, "labelFontSize": 12, "labelColor": "black", "labelLimit": 300, "rowPadding": 4, "labelExpr": "datum.label + ' tap coeff. by porposed method'"}}
      }
    },
    {
      "data": {"name": "refs"},
      "mark": {"type": "rule", "color": "black", "strokeWidth": 2},
      "encoding": {
        "x": {"field": "x0", "type": "quantitative", "scale": {"domain": [0, 1200], "nice": false, "zero": false},
              "axis": {"orient": "top", "values": [0, 200, 400, 600, 800, 1000, 1200], "tickSize": -5, "labels": false, "title": null}},
        "x2": {"field": "x1"},
        "y": {"field": "y", "type": "quantitative", "scale": {"domain": [-0.2, 0.9], "nice": false, "zero": false},
              "axis": {"orient": "right", "values": [-0.2, -0.1, 0, 0.1, 0.2, 0.3, 0.4, 0.5, 0.6, 0.7, 0.8, 0.9], "tickSize": -5, "labels": false, "title": null}}
      }
    },
    {
      "data": {"name": "ell"},
      "transform": [{"filter": {"field": "tap", "oneOf": ["1st tap", "2nd tap"]}}],
      "mark": {"type": "point", "shape": "M -0.45 0 A 0.45 1 0 1 0 0.45 0 A 0.45 1 0 1 0 -0.45 0 Z", "size": 1156, "filled": false, "stroke": "black", "strokeWidth": 1, "opacity": 1},
      "encoding": {
        "x": {"field": "x", "type": "quantitative", "scale": {"domain": [0, 1200], "nice": false, "zero": false}, "axis": null},
        "y": {"field": "y", "type": "quantitative", "scale": {"domain": [-0.2, 0.9], "nice": false, "zero": false}, "axis": null}
      }
    },
    {
      "data": {"name": "ell"},
      "transform": [{"filter": {"field": "tap", "oneOf": ["3rd tap", "4th tap"]}}],
      "mark": {"type": "point", "shape": "M -0.54 0 A 0.54 1 0 1 0 0.54 0 A 0.54 1 0 1 0 -0.54 0 Z", "size": 380, "filled": false, "stroke": "black", "strokeWidth": 1, "opacity": 1},
      "encoding": {
        "x": {"field": "x", "type": "quantitative", "scale": {"domain": [0, 1200], "nice": false, "zero": false}, "axis": null},
        "y": {"field": "y", "type": "quantitative", "scale": {"domain": [-0.2, 0.9], "nice": false, "zero": false}, "axis": null}
      }
    },
    {
      "data": {"name": "ann"},
      "mark": {"type": "rule", "color": "black", "strokeWidth": 1},
      "encoding": {
        "x": {"field": "ax", "type": "quantitative", "scale": {"domain": [0, 1200], "nice": false, "zero": false}, "axis": null},
        "y": {"field": "ay", "type": "quantitative", "scale": {"domain": [-0.2, 0.9], "nice": false, "zero": false}, "axis": null},
        "x2": {"field": "bx"},
        "y2": {"field": "by"}
      }
    },
    {
      "data": {"name": "ann"},
      "transform": [{"filter": {"field": "tap", "equal": "2nd tap"}}],
      "mark": {"type": "point", "shape": "M0,0L-1,-0.28L-1,0.28Z", "size": 676, "filled": true, "color": "black", "opacity": 1, "angle": 331},
      "encoding": {
        "x": {"field": "bx", "type": "quantitative", "scale": {"domain": [0, 1200], "nice": false, "zero": false}, "axis": null},
        "y": {"field": "by", "type": "quantitative", "scale": {"domain": [-0.2, 0.9], "nice": false, "zero": false}, "axis": null}
      }
    },
    {
      "data": {"name": "ann"},
      "transform": [{"filter": {"field": "tap", "equal": "1st tap"}}],
      "mark": {"type": "point", "shape": "M0,0L-1,-0.28L-1,0.28Z", "size": 676, "filled": true, "color": "black", "opacity": 1, "angle": 24},
      "encoding": {
        "x": {"field": "bx", "type": "quantitative", "scale": {"domain": [0, 1200], "nice": false, "zero": false}, "axis": null},
        "y": {"field": "by", "type": "quantitative", "scale": {"domain": [-0.2, 0.9], "nice": false, "zero": false}, "axis": null}
      }
    },
    {
      "data": {"name": "ann"},
      "transform": [{"filter": {"field": "tap", "equal": "4th tap"}}],
      "mark": {"type": "point", "shape": "M0,0L-1,-0.28L-1,0.28Z", "size": 676, "filled": true, "color": "black", "opacity": 1, "angle": 18},
      "encoding": {
        "x": {"field": "bx", "type": "quantitative", "scale": {"domain": [0, 1200], "nice": false, "zero": false}, "axis": null},
        "y": {"field": "by", "type": "quantitative", "scale": {"domain": [-0.2, 0.9], "nice": false, "zero": false}, "axis": null}
      }
    },
    {
      "data": {"name": "ann"},
      "transform": [{"filter": {"field": "tap", "equal": "3rd tap"}}],
      "mark": {"type": "point", "shape": "M0,0L-1,-0.28L-1,0.28Z", "size": 676, "filled": true, "color": "black", "opacity": 1, "angle": 334},
      "encoding": {
        "x": {"field": "bx", "type": "quantitative", "scale": {"domain": [0, 1200], "nice": false, "zero": false}, "axis": null},
        "y": {"field": "by", "type": "quantitative", "scale": {"domain": [-0.2, 0.9], "nice": false, "zero": false}, "axis": null}
      }
    },
    {
      "data": {"name": "ann"},
      "mark": {"type": "text", "align": "right", "baseline": "middle", "fontSize": 12, "color": "black"},
      "encoding": {
        "x": {"field": "tx", "type": "quantitative", "scale": {"domain": [0, 1200], "nice": false, "zero": false}, "axis": null},
        "y": {"field": "ty", "type": "quantitative", "scale": {"domain": [-0.2, 0.9], "nice": false, "zero": false}, "axis": null},
        "text": {"field": "tap"}
      }
    }
  ]
}
